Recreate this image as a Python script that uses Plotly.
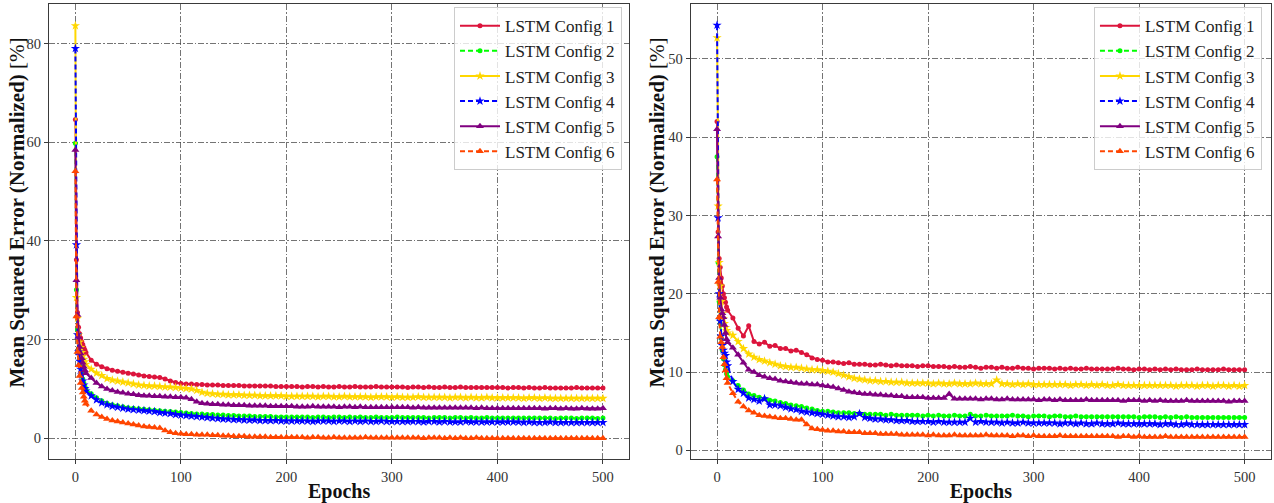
import plotly.graph_objects as go

# Epoch grid at which values were read (every epoch up to 10, then every 5 epochs)
epochs = list(range(0, 11)) + list(range(15, 501, 5))

series_names = ["LSTM Config 1", "LSTM Config 2", "LSTM Config 3",
                "LSTM Config 4", "LSTM Config 5", "LSTM Config 6"]

# ---------------- Left panel values ----------------
left_cfg1 = [64.6, 36.2, 25.5, 22.5, 21.2, 20.3, 19.6, 19.0, 18.4, 17.9, 17.4,
             15.8, 15.0, 14.5, 14.1, 13.8, 13.6, 13.4, 13.2, 13.0, 12.8,
             12.6, 12.5, 12.4, 12.3, 12.0, 11.6, 11.3, 11.1, 11.0, 11.0,
             10.9, 10.9, 10.8, 10.8, 10.8, 10.7, 10.7, 10.7, 10.7, 10.6,
             10.6, 10.6, 10.6, 10.6, 10.6, 10.5, 10.5, 10.5, 10.5, 10.5,
             10.4, 10.5, 10.5, 10.4, 10.5, 10.4, 10.4, 10.5, 10.4, 10.4,
             10.5, 10.4, 10.4, 10.4, 10.5, 10.4, 10.4, 10.4, 10.4, 10.4,
             10.3, 10.4, 10.4, 10.3, 10.4, 10.3, 10.3, 10.4, 10.3, 10.3,
             10.4, 10.3, 10.3, 10.3, 10.3, 10.3, 10.3, 10.3, 10.3, 10.2,
             10.3, 10.3, 10.2, 10.3, 10.2, 10.2, 10.3, 10.2, 10.2, 10.2,
             10.2, 10.2, 10.3, 10.2, 10.2, 10.2, 10.2, 10.2]
left_cfg2 = [59.8, 30.1, 22.0, 18.2, 16.0, 14.5, 13.2, 12.0, 11.2, 10.5, 10.0,
             9.0, 8.2, 7.6, 7.1, 6.8, 6.6, 6.4, 6.2, 6.1, 6.0,
             5.9, 5.8, 5.7, 5.6, 5.5, 5.4, 5.3, 5.2, 5.1, 5.0,
             4.9, 4.9, 4.8, 4.8, 4.7, 4.7, 4.6, 4.6, 4.5, 4.5,
             4.5, 4.4, 4.4, 4.4, 4.4, 4.3, 4.3, 4.3, 4.3, 4.3,
             4.3, 4.3, 4.2, 4.3, 4.3, 4.2, 4.3, 4.3, 4.2, 4.3,
             4.2, 4.3, 4.2, 4.2, 4.3, 4.2, 4.2, 4.2, 4.3, 4.2,
             4.2, 4.2, 4.2, 4.2, 4.1, 4.2, 4.2, 4.2, 4.1, 4.2,
             4.2, 4.1, 4.2, 4.1, 4.1, 4.2, 4.1, 4.1, 4.1, 4.1,
             4.1, 4.1, 4.1, 4.1, 4.1, 4.1, 4.1, 4.1, 4.0, 4.1,
             4.1, 4.1, 4.0, 4.1, 4.1, 4.1, 4.0, 4.1]
left_cfg3 = [83.6, 28.5, 24.3, 21.0, 19.5, 18.4, 17.4, 16.6, 16.0, 15.5, 15.0,
             14.0, 13.2, 12.7, 12.1, 11.8, 11.6, 11.4, 11.2, 11.0, 10.8,
             10.7, 10.6, 10.6, 10.5, 10.4, 10.4, 10.3, 10.2, 10.1, 10.0,
             9.7, 9.3, 9.1, 9.0, 8.9, 8.9, 8.8, 8.8, 8.8, 8.7,
             8.7, 8.7, 8.6, 8.6, 8.6, 8.6, 8.6, 8.5, 8.5, 8.5,
             8.5, 8.5, 8.5, 8.4, 8.5, 8.5, 8.4, 8.4, 8.5, 8.4,
             8.4, 8.4, 8.4, 8.3, 8.4, 8.4, 8.4, 8.3, 8.4, 8.3,
             8.3, 8.3, 8.4, 8.3, 8.3, 8.3, 8.3, 8.3, 8.2, 8.3,
             8.3, 8.2, 8.3, 8.2, 8.2, 8.3, 8.2, 8.2, 8.2, 8.2,
             8.2, 8.2, 8.1, 8.2, 8.2, 8.1, 8.2, 8.1, 8.1, 8.1,
             8.1, 8.1, 8.1, 8.1, 8.1, 8.1, 8.1, 8.1]
left_cfg4 = [79.0, 39.2, 21.0, 17.5, 15.6, 14.0, 12.8, 11.6, 10.8, 10.1, 9.6,
             8.6, 7.8, 7.2, 6.8, 6.5, 6.3, 6.1, 5.9, 5.8, 5.7,
             5.6, 5.5, 5.4, 5.2, 5.1, 5.0, 4.8, 4.7, 4.6, 4.5,
             4.4, 4.3, 4.2, 4.1, 4.0, 3.9, 3.9, 3.8, 3.8, 3.7,
             3.7, 3.7, 3.6, 3.6, 3.6, 3.6, 3.5, 3.5, 3.5, 3.5,
             3.5, 3.5, 3.4, 3.5, 3.5, 3.5, 3.4, 3.5, 3.5, 3.4,
             3.5, 3.4, 3.5, 3.4, 3.4, 3.5, 3.4, 3.4, 3.4, 3.4,
             3.4, 3.4, 3.4, 3.3, 3.4, 3.4, 3.3, 3.4, 3.3, 3.3,
             3.3, 3.4, 3.3, 3.3, 3.3, 3.3, 3.3, 3.3, 3.3, 3.3,
             3.3, 3.3, 3.2, 3.3, 3.2, 3.2, 3.2, 3.3, 3.2, 3.2,
             3.2, 3.2, 3.2, 3.2, 3.2, 3.2, 3.2, 3.2]
left_cfg5 = [58.4, 32.0, 25.0, 20.5, 18.5, 17.2, 16.2, 15.3, 14.5, 13.8, 13.2,
             12.2, 11.2, 10.5, 10.0, 9.7, 9.4, 9.2, 9.0, 8.9, 8.7,
             8.6, 8.6, 8.5, 8.5, 8.4, 8.4, 8.3, 8.3, 8.2, 7.9,
             7.4, 7.1, 7.0, 6.9, 6.9, 6.8, 6.8, 6.7, 6.7, 6.7,
             6.6, 6.6, 6.6, 6.6, 6.5, 6.5, 6.5, 6.5, 6.5, 6.4,
             6.4, 6.4, 6.5, 6.4, 6.4, 6.4, 6.4, 6.3, 6.4, 6.4,
             6.3, 6.4, 6.3, 6.3, 6.3, 6.3, 6.3, 6.3, 6.3, 6.3,
             6.3, 6.2, 6.3, 6.2, 6.2, 6.2, 6.2, 6.2, 6.2, 6.2,
             6.2, 6.2, 6.2, 6.1, 6.2, 6.1, 6.1, 6.1, 6.1, 6.1,
             6.1, 6.1, 6.1, 6.1, 6.1, 6.1, 6.0, 6.1, 6.1, 6.0,
             6.1, 6.0, 6.0, 6.1, 6.0, 6.0, 6.0, 6.1]
left_cfg6 = [54.1, 24.7, 17.5, 14.8, 12.6, 11.2, 10.2, 9.3, 8.4, 7.6, 7.0,
             5.6, 4.8, 4.3, 3.9, 3.6, 3.4, 3.2, 3.0, 2.8, 2.6,
             2.4, 2.3, 2.2, 2.1, 1.6, 1.2, 1.0, 0.9, 0.8, 0.8,
             0.7, 0.7, 0.7, 0.6, 0.6, 0.5, 0.5, 0.4, 0.4, 0.4,
             0.3, 0.3, 0.3, 0.3, 0.2, 0.2, 0.2, 0.2, 0.2, 0.2,
             0.2, 0.1, 0.2, 0.2, 0.1, 0.1, 0.2, 0.1, 0.1, 0.1,
             0.1, 0.1, 0.2, 0.1, 0.1, 0.1, 0.1, 0.1, 0.1, 0.1,
             0.1, 0.1, 0.1, 0.0, 0.1, 0.1, 0.1, 0.0, 0.1, 0.0,
             0.1, 0.0, 0.0, 0.1, 0.0, 0.0, 0.0, 0.0, 0.0, 0.0,
             0.0, 0.0, 0.0, 0.0, 0.0, 0.0, 0.0, 0.0, 0.0, 0.0,
             0.0, 0.0, 0.0, 0.0, 0.0, 0.0, 0.0, 0.0]

# ---------------- Right panel values ----------------
right_cfg1 = [42.0, 27.9, 24.5, 23.4, 22.0, 21.0, 20.0, 19.5, 18.9, 18.3, 17.9,
              16.9, 15.6, 14.6, 15.9, 13.9, 13.6, 13.8, 13.3, 13.4, 13.0,
              13.0, 12.7, 12.8, 12.5, 12.2, 11.8, 11.6, 11.5, 11.3, 11.3,
              11.2, 11.1, 11.2, 11.0, 11.0, 11.0, 10.9, 10.9, 11.0, 10.9,
              10.8, 10.9, 10.8, 10.8, 10.8, 10.7, 10.8, 10.8, 10.7, 10.7,
              10.7, 10.6, 10.7, 10.6, 10.6, 10.7, 10.6, 10.5, 10.6, 10.6,
              10.5, 10.6, 10.5, 10.5, 10.6, 10.5, 10.5, 10.4, 10.5, 10.5,
              10.5, 10.4, 10.5, 10.4, 10.5, 10.4, 10.4, 10.5, 10.4, 10.4,
              10.4, 10.4, 10.4, 10.5, 10.4, 10.4, 10.3, 10.4, 10.4, 10.3,
              10.4, 10.3, 10.4, 10.3, 10.4, 10.3, 10.3, 10.3, 10.4, 10.3,
              10.3, 10.3, 10.3, 10.4, 10.3, 10.3, 10.3, 10.3]
right_cfg2 = [37.5, 24.0, 19.0, 16.2, 14.3, 12.8, 11.7, 10.9, 10.3, 9.8, 9.4,
              8.9, 8.3, 7.7, 7.2, 7.0, 6.8, 6.6, 6.4, 6.3, 6.1,
              6.0, 5.8, 5.7, 5.6, 5.4, 5.3, 5.1, 5.0, 5.0, 4.9,
              4.8, 4.8, 4.8, 4.7, 4.7, 4.6, 4.6, 4.6, 4.6, 4.5,
              4.6, 4.5, 4.5, 4.5, 4.5, 4.5, 4.4, 4.5, 4.4, 4.5,
              4.4, 4.4, 4.5, 4.4, 4.4, 4.6, 4.4, 4.4, 4.5, 4.4,
              4.4, 4.4, 4.4, 4.5, 4.4, 4.4, 4.3, 4.4, 4.4, 4.4,
              4.3, 4.4, 4.4, 4.3, 4.3, 4.4, 4.3, 4.3, 4.3, 4.3,
              4.3, 4.3, 4.3, 4.3, 4.3, 4.3, 4.3, 4.2, 4.3, 4.3,
              4.3, 4.2, 4.3, 4.2, 4.3, 4.2, 4.3, 4.2, 4.2, 4.2,
              4.2, 4.2, 4.2, 4.2, 4.2, 4.2, 4.2, 4.2]
right_cfg3 = [52.7, 31.2, 24.0, 21.0, 19.0, 17.5, 16.8, 16.2, 15.7, 15.3, 15.0,
              14.7, 13.9, 13.0, 12.3, 11.9, 11.6, 11.4, 11.2, 11.0, 10.8,
              10.7, 10.6, 10.6, 10.5, 10.4, 10.3, 10.3, 10.2, 10.1, 10.0,
              9.8, 9.6, 9.4, 9.2, 9.1, 9.0, 8.9, 8.9, 8.8, 8.8,
              8.7, 8.7, 8.7, 8.6, 8.6, 8.6, 8.6, 8.6, 8.5, 8.6,
              8.5, 8.5, 8.6, 8.5, 8.5, 8.5, 8.6, 8.5, 8.5, 8.5,
              9.0, 8.5, 8.5, 8.4, 8.5, 8.4, 8.5, 8.4, 8.4, 8.4,
              8.4, 8.4, 8.4, 8.4, 8.3, 8.4, 8.4, 8.3, 8.4, 8.3,
              8.4, 8.3, 8.3, 8.4, 8.3, 8.3, 8.3, 8.3, 8.3, 8.3,
              8.3, 8.3, 8.3, 8.3, 8.2, 8.3, 8.3, 8.3, 8.2, 8.3,
              8.3, 8.2, 8.3, 8.3, 8.2, 8.3, 8.2, 8.3]
right_cfg4 = [54.3, 29.7, 20.0, 16.5, 14.6, 13.4, 12.8, 12.4, 12.1, 11.3, 10.8,
              8.8, 7.8, 7.3, 6.7, 6.5, 6.3, 6.6, 5.8, 5.8, 5.7,
              5.5, 5.3, 5.2, 5.0, 4.9, 4.8, 4.7, 4.6, 4.5, 4.4,
              4.3, 4.3, 4.2, 4.3, 4.7, 4.2, 4.1, 4.0, 4.0, 3.9,
              3.9, 3.8, 3.8, 3.8, 3.7, 3.7, 3.7, 3.7, 3.6, 3.7,
              3.6, 3.6, 3.6, 3.6, 3.6, 4.1, 3.6, 3.7, 3.6, 3.6,
              3.6, 3.5, 3.6, 3.5, 3.5, 3.6, 3.5, 3.5, 3.5, 3.5,
              3.5, 3.5, 3.4, 3.5, 3.5, 3.4, 3.5, 3.4, 3.4, 3.5,
              3.4, 3.4, 3.4, 3.5, 3.4, 3.4, 3.4, 3.4, 3.4, 3.4,
              3.4, 3.3, 3.4, 3.4, 3.3, 3.3, 3.4, 3.3, 3.3, 3.3,
              3.3, 3.3, 3.3, 3.3, 3.3, 3.3, 3.3, 3.3]
right_cfg5 = [41.0, 27.3, 22.0, 19.5, 18.0, 17.5, 17.0, 16.0, 15.0, 14.2, 13.8,
              13.1, 12.2, 11.2, 10.3, 10.0, 9.6, 9.4, 9.2, 9.1, 8.9,
              8.8, 8.7, 8.6, 8.5, 8.5, 8.4, 8.4, 8.3, 8.2, 8.1,
              7.9, 7.7, 7.5, 7.4, 7.3, 7.2, 7.2, 7.1, 7.1, 7.0,
              7.0, 6.9, 6.9, 6.8, 6.8, 6.8, 6.8, 6.7, 6.7, 6.7,
              6.7, 7.2, 6.6, 6.6, 6.6, 6.6, 6.6, 6.5, 6.6, 6.6,
              6.5, 6.5, 6.6, 6.5, 6.5, 6.5, 6.5, 6.5, 6.4, 6.5,
              6.5, 6.4, 6.5, 6.4, 6.4, 6.4, 6.4, 6.5, 6.4, 6.4,
              6.4, 6.4, 6.4, 6.4, 6.3, 6.4, 6.4, 6.4, 6.3, 6.4,
              6.3, 6.4, 6.3, 6.3, 6.3, 6.3, 6.4, 6.3, 6.3, 6.3,
              6.3, 6.3, 6.3, 6.3, 6.2, 6.3, 6.3, 6.3]
right_cfg6 = [34.6, 21.5, 17.0, 14.5, 13.8, 13.2, 11.9, 11.0, 10.2, 9.2, 8.6,
              7.3, 6.2, 5.6, 5.1, 4.8, 4.5, 4.4, 4.3, 4.2, 4.1,
              4.1, 4.0, 3.9, 3.9, 3.3, 2.8, 2.7, 2.6, 2.5, 2.5,
              2.4, 2.4, 2.3, 2.3, 2.3, 2.2, 2.2, 2.2, 2.1, 2.1,
              2.1, 2.1, 2.0, 2.0, 2.0, 2.0, 2.0, 1.9, 2.0, 1.9,
              1.9, 1.9, 2.0, 1.9, 1.9, 1.9, 1.9, 1.9, 2.0, 1.9,
              1.9, 1.9, 1.9, 1.8, 1.9, 1.9, 1.8, 1.9, 1.8, 1.8,
              1.8, 1.8, 1.9, 1.8, 1.8, 1.8, 1.8, 1.8, 1.8, 1.8,
              1.8, 1.8, 1.8, 1.7, 1.8, 1.8, 1.7, 1.8, 1.7, 1.7,
              1.7, 1.7, 1.8, 1.7, 1.7, 1.7, 1.7, 1.7, 1.7, 1.7,
              1.7, 1.7, 1.7, 1.7, 1.7, 1.7, 1.7, 1.7]

left_values = [left_cfg1, left_cfg2, left_cfg3, left_cfg4, left_cfg5, left_cfg6]
right_values = [right_cfg1, right_cfg2, right_cfg3, right_cfg4, right_cfg5, right_cfg6]

colors = ["#DC143C", "#00FF00", "#FFD700", "#0000FF", "#800080", "#FF4500"]
dashes = ["solid", "5px,3px", "solid", "5px,3px", "solid", "5px,3px"]
symbols = ["circle", "circle", "star", "star", "triangle-up", "triangle-up"]
msizes = [5, 5, 7, 7, 7, 7]

FONT = "Liberation Serif"
YTITLE = "<b>Mean Squared Error (Normalized)</b> [%]"

fig = go.Figure()
for panel, (vals, xa, ya, lg) in enumerate([(left_values, "x", "y", "legend"),
                                            (right_values, "x2", "y2", "legend2")]):
    for i in range(6):
        fig.add_trace(go.Scatter(
            x=epochs, y=vals[i], mode="lines+markers", name=series_names[i],
            xaxis=xa, yaxis=ya, legend=lg,
            line=dict(color=colors[i], width=2, dash=dashes[i]),
            marker=dict(symbol=symbols[i], size=msizes[i], color=colors[i],
                        line=dict(width=0)),
        ))

axis_common = dict(
    showline=True, linecolor="#3a3a3a", linewidth=1.2, mirror=True,
    ticks="outside", ticklen=4, tickwidth=1, tickcolor="#3a3a3a",
    showgrid=True, gridcolor="rgba(70,70,70,0.75)", gridwidth=0.8,
    griddash="6px,2px,1.5px,2px", zeroline=False, automargin=False,
    tickfont=dict(family=FONT, size=14.5, color="#333"),
)

xtitle = dict(text="<b>Epochs</b>", font=dict(family=FONT, size=20, color="#111"), standoff=3)

legend_common = dict(
    font=dict(family=FONT, size=17, color="#222"),
    bgcolor="rgba(255,255,255,0.8)", bordercolor="#cccccc", borderwidth=1,
    xanchor="right", yanchor="top", itemwidth=40,
)

ytitle_font = dict(family=FONT, size=21, color="#111")
annotations = [
    dict(text=YTITLE, xref="paper", yref="paper", x=-0.0266, y=0.543,
         xanchor="center", yanchor="middle", textangle=-90, showarrow=False,
         font=ytitle_font),
    dict(text=YTITLE, xref="paper", yref="paper", x=0.4971, y=0.543,
         xanchor="center", yanchor="middle", textangle=-90, showarrow=False,
         font=ytitle_font),
]

fig.update_layout(
    width=1274, height=503,
    margin=dict(l=49, r=3, t=4, b=44),
    paper_bgcolor="white", plot_bgcolor="white",
    xaxis=dict(domain=[0.0, 0.4749], range=[-25, 525], tickvals=[0, 100, 200, 300, 400, 500],
               title=xtitle, anchor="y", **axis_common),
    yaxis=dict(domain=[0, 1], range=[-4.2, 88.0], tickvals=[0, 20, 40, 60, 80],
               anchor="x", **axis_common),
    xaxis2=dict(domain=[0.5251, 1.0], range=[-25, 525], tickvals=[0, 100, 200, 300, 400, 500],
                title=xtitle, anchor="y2", **axis_common),
    yaxis2=dict(domain=[0, 1], range=[-1.1, 57.0], tickvals=[0, 10, 20, 30, 40, 50],
                anchor="x2", **axis_common),
    legend=dict(x=0.4689, y=0.993, **legend_common),
    legend2=dict(x=0.9926, y=0.993, **legend_common),
    annotations=annotations,
    showlegend=True,
)

fig.write_html("out.html", config={"displayModeBar": False},
               post_script="document.body.style.margin='0';document.body.style.overflow='hidden';")
